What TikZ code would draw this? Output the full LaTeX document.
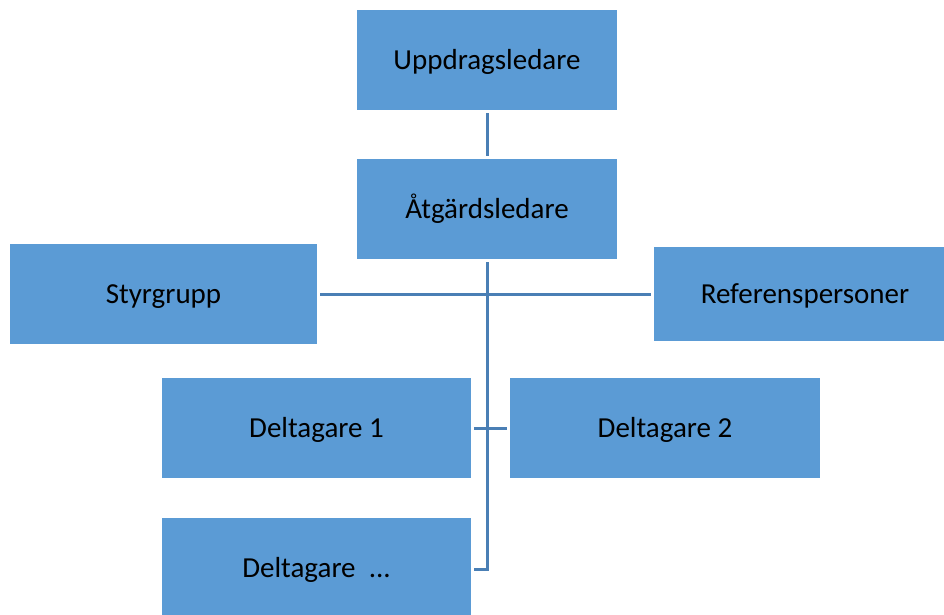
\documentclass[tikz,border=0pt]{standalone}
\usepackage{fontspec}
\setmainfont{Carlito}
\definecolor{boxfill}{HTML}{5B9BD5}
\definecolor{linecol}{HTML}{4A7FB5}
\begin{document}
\begin{tikzpicture}[x=1pt,y=-1pt,
  orgbox/.style={fill=boxfill,draw=none,inner sep=0pt,text height=21.5pt,text depth=3pt,font=\fontsize{29}{34}\selectfont,text=black},
  conn/.style={draw=linecol,line width=3pt}]
\useasboundingbox (0,0) rectangle (944,614);
\node[orgbox,minimum width=260pt,minimum height=100pt] (upp) at (487,60) {Uppdragsledare};
\node[orgbox,minimum width=260pt,minimum height=100pt] (atg) at (487,209) {Åtgärdsledare};
\node[orgbox,minimum width=307pt,minimum height=100pt] (sty) at (163.5,294) {Styrgrupp};
\node[orgbox,minimum width=302pt,minimum height=94pt] (ref) at (805,294) {Referenspersoner};
\node[orgbox,minimum width=309pt,minimum height=100pt] (d1) at (316.5,428) {Deltagare 1};
\node[orgbox,minimum width=310pt,minimum height=100pt] (d2) at (665,428) {Deltagare 2};
\node[orgbox,minimum width=309pt,minimum height=100pt,anchor=north] (dx) at (316.5,518) {Deltagare\ \ ...};
\coordinate (bend) at (487,569);
\draw[conn] ([yshift=-3pt]upp.south) -- ([yshift=3pt]atg.north);
\draw[conn] ([yshift=-3pt]atg.south) -- (bend) -- ([xshift=3pt]dx.east |- bend);
\draw[conn] ([xshift=3pt]sty.east) -- ([xshift=-3pt]ref.west);
\draw[conn] ([xshift=3pt]d1.east) -- ([xshift=-3pt]d2.west);
\end{tikzpicture}
\end{document}
